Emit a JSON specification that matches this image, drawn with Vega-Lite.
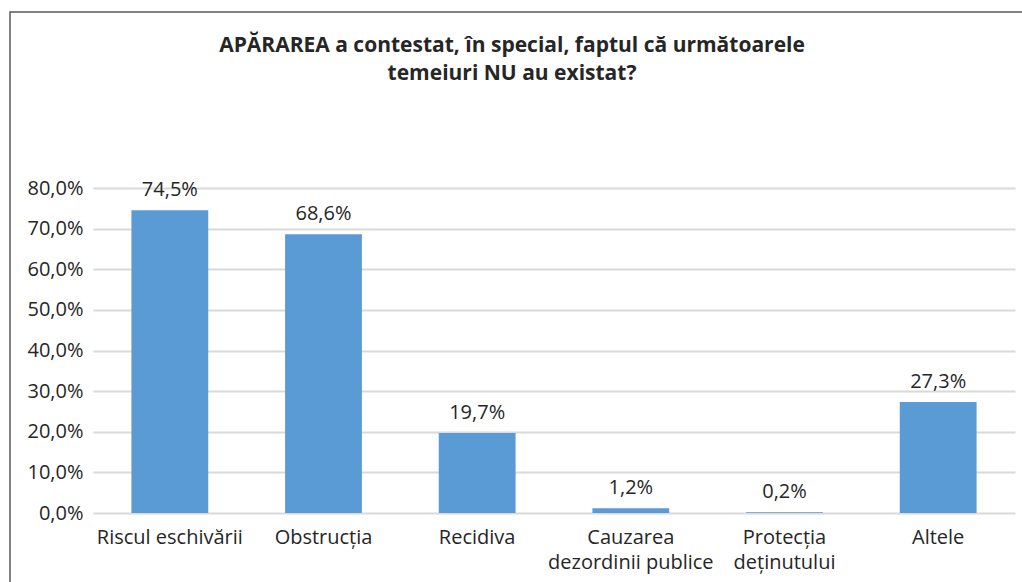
{
  "$schema": "https://vega.github.io/schema/vega-lite/v6.json",
  "width": 1014,
  "height": 572,
  "padding": {"left": 10, "top": 12, "right": 0, "bottom": 0},
  "background": "white",
  "title": {
    "text": ["APĂRAREA a contestat, în special, faptul că următoarele", "temeiuri NU au existat?"],
    "font": "Open Sans",
    "fontSize": 21,
    "fontWeight": "bold",
    "color": "#262626",
    "anchor": "middle",
    "frame": "group",
    "baseline": "top",
    "lineHeight": 28,
    "offset": -72,
    "dx": -5
  },
  "data": {
    "values": [
      {"categorie": "Riscul eschivării", "valoare": 0.745},
      {"categorie": "Obstrucția", "valoare": 0.686},
      {"categorie": "Recidiva", "valoare": 0.197},
      {"categorie": "Cauzarea|dezordinii publice", "valoare": 0.012},
      {"categorie": "Protecția|deținutului", "valoare": 0.002},
      {"categorie": "Altele", "valoare": 0.273}
    ]
  },
  "encoding": {
    "x": {
      "field": "categorie",
      "type": "nominal",
      "sort": null,
      "scale": {"range": [83, 1005], "paddingInner": 0.5, "paddingOuter": 0.25},
      "axis": {
        "title": null,
        "orient": "bottom",
        "labelAngle": 0,
        "domain": false,
        "ticks": false,
        "tickSize": 0,
        "offset": -71,
        "labelPadding": 14,
        "labelFont": "Open Sans",
        "labelFontSize": 20,
        "labelColor": "#262626",
        "labelLineHeight": 25,
        "labelBaseline": "top",
        "labelExpr": "split(datum.label, '|')",
        "grid": false
      }
    },
    "y": {
      "field": "valoare",
      "type": "quantitative",
      "scale": {"domain": [0, 0.8], "range": [501, 176], "nice": false, "zero": true},
      "axis": {
        "title": null,
        "values": [0, 0.1, 0.2, 0.3, 0.4, 0.5, 0.6, 0.7, 0.8],
        "format": ".1%",
        "domain": false,
        "ticks": false,
        "tickSize": 0,
        "offset": -78,
        "labelPadding": 5,
        "labelFont": "Open Sans",
        "labelFontSize": 20,
        "labelColor": "#262626",
        "grid": true,
        "gridColor": "#D9D9D9",
        "gridWidth": 2
      }
    }
  },
  "layer": [
    {"mark": {"type": "bar", "color": "#5B9BD5"}},
    {
      "mark": {"type": "text", "baseline": "alphabetic", "dy": -14, "font": "Open Sans", "fontSize": 20, "color": "#262626"},
      "encoding": {"text": {"field": "valoare", "type": "quantitative", "format": ".1%"}}
    }
  ],
  "config": {
    "view": {"stroke": "#595959", "strokeWidth": 1.5},
    "locale": {"number": {"decimal": ",", "thousands": ".", "grouping": [3], "currency": ["", ""]}}
  }
}
